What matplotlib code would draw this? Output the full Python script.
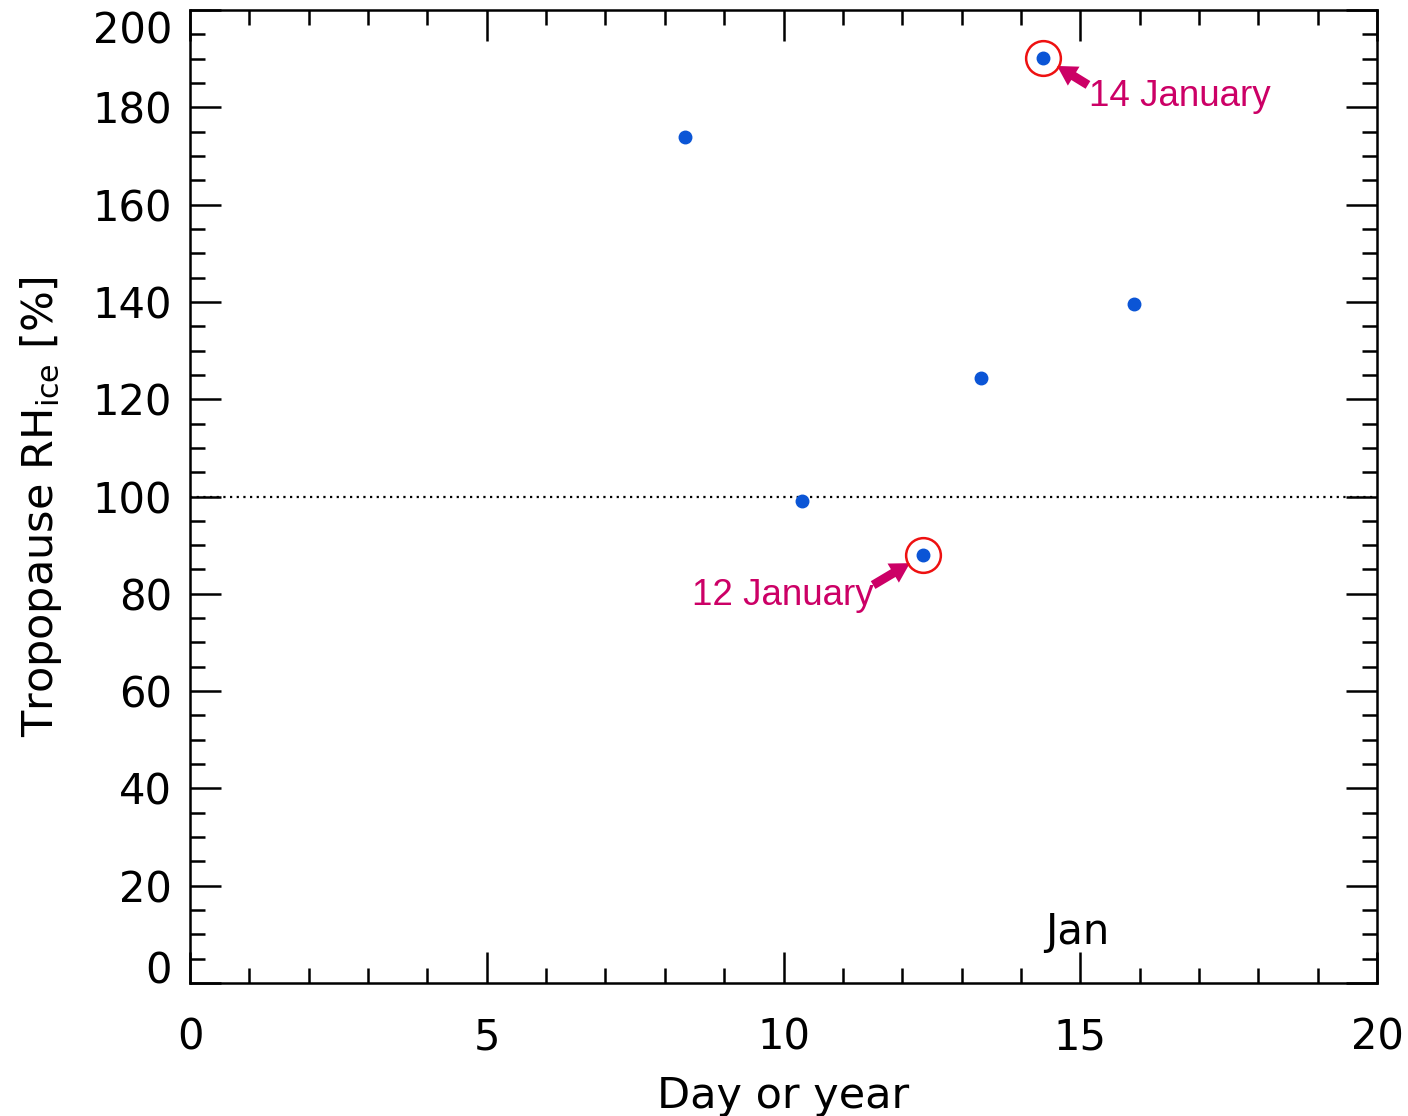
import matplotlib
matplotlib.use('Agg')
import matplotlib.pyplot as plt
from matplotlib.ticker import MultipleLocator

# day of January vs tropopause RHice
days = [8.34, 10.31, 12.35, 13.33, 14.37, 15.9]
rhice = [173.9, 99.1, 88.0, 124.4, 190.1, 139.6]

# highlighted cases: label, text position, arrow tail, arrow tip
hl_days = [12.35, 14.37]
hl_rh = [88.0, 190.1]
hl_labels = ['12 January', '14 January']
hl_text_pos = [(8.45, 79.6), (15.15, 182.3)]
hl_tail = [(11.51, 81.8), (15.13, 184.6)]
hl_tip = [(12.13, 86.3), (14.61, 188.5)]

yticks = [0, 20, 40, 60, 80, 100, 120, 140, 160, 180, 200]

fig = plt.figure(figsize=(14.08, 11.16), dpi=100)
ax = fig.add_axes([190/1408, 1 - 983/1116, 1187/1408, 973/1116])

ax.axhline(100, color='black', linestyle=(0, (1, 2)), linewidth=1.6, zorder=1)
ax.plot(days, rhice, 'o', color='#0b55d6', markersize=9, zorder=3)
ax.plot(hl_days, hl_rh, 'o', markerfacecolor='none', markeredgecolor='#ee1111',
        markersize=25, markeredgewidth=1.8, zorder=4)

mag = '#cc0066'
for lab, (tx, ty), tail, tip in zip(hl_labels, hl_text_pos, hl_tail, hl_tip):
    ax.annotate('', xy=tip, xytext=tail,
                arrowprops=dict(arrowstyle='simple,head_width=1.6,head_length=1.4,tail_width=0.65',
                                color=mag, lw=0, shrinkA=0, shrinkB=0))
    ax.text(tx, ty, lab, color=mag, fontsize=26.5, family='Liberation Sans', va='center')

ax.text(14.95, 10.5, 'Jan', fontsize=30, ha='center', va='center')

ax.set_xlim(0, 20)
ax.set_ylim(0, 200)
ax.xaxis.set_major_locator(MultipleLocator(5))
ax.xaxis.set_minor_locator(MultipleLocator(1))
ax.set_yticks(yticks)
ax.yaxis.set_minor_locator(MultipleLocator(5))
ax.tick_params(which='both', direction='in', top=True, right=True, width=1.8, labelsize=30)
ax.tick_params(which='major', length=22)
ax.tick_params(which='minor', length=11)
ax.tick_params(axis='x', which='major', pad=24)
ax.tick_params(axis='y', labelleft=False)
for s in ax.spines.values():
    s.set_linewidth(1.8)

# y tick labels drawn by hand so the end ones stay inside the frame
ytf = ax.get_yaxis_transform()
for v in yticks:
    va = 'baseline' if v == yticks[0] else ('top' if v == yticks[-1] else 'center_baseline')
    ax.text(-0.015, v, str(v), transform=ytf, ha='right', va=va, fontsize=30)

ax.set_xlabel('Day or year', fontsize=31, labelpad=12)
ax.set_ylabel(r'Tropopause RH$_{\rm ice}$ [%]', fontsize=31)
ax.yaxis.set_label_coords(-0.106, 0.49)

fig.savefig('out.png', dpi=100)
